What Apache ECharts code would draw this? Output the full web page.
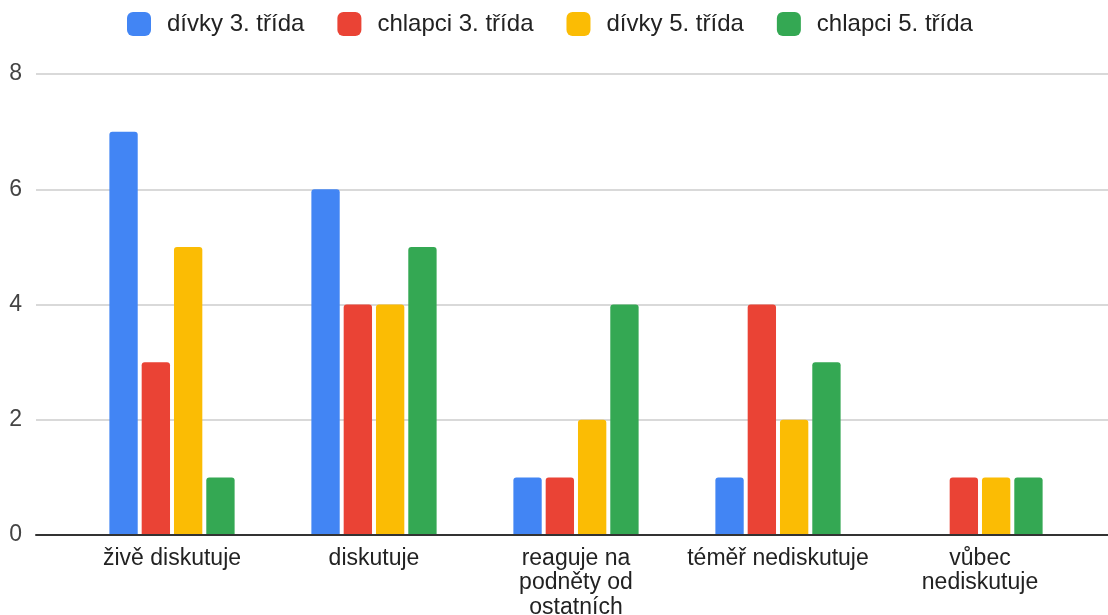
<!DOCTYPE html>
<html><head><meta charset="utf-8">
<script src="https://cdn.jsdelivr.net/npm/echarts@6/dist/echarts.min.js"></script>
<style>html,body{margin:0;padding:0;background:#fff}#c{width:1108px;height:615px}</style>
</head><body><div id="c"></div>
<script>
const categories = ['živě diskutuje','diskutuje','reaguje na podněty od ostatních','téměř nediskutuje','vůbec nediskutuje'];
const tickLabels = ['živě diskutuje','diskutuje','reaguje na\npodněty od\nostatních','téměř nediskutuje','vůbec\nnediskutuje'];
const seriesNames = ['dívky 3. třída','chlapci 3. třída','dívky 5. třída','chlapci 5. třída'];
const divky3 = [7, 6, 1, 1, 0];
const chlapci3 = [3, 4, 1, 4, 1];
const divky5 = [5, 4, 2, 2, 1];
const chlapci5 = [1, 5, 4, 3, 1];
const yTicks = [0, 2, 4, 6, 8];

const colors = ['#4285F4','#EA4335','#FBBC04','#34A853'];
const values = [divky3, chlapci3, divky5, chlapci5];
const FONT = 'Liberation Sans, Arial, sans-serif';

const chart = echarts.init(document.getElementById('c'));
chart.setOption({
  animation: false,
  color: colors,
  legend: {
    top: 12, left: 127, padding: 0, itemWidth: 24, itemHeight: 24, itemGap: 33,
    icon: 'roundRect',
    textStyle: {fontFamily: FONT, fontSize: 24, color: '#222', padding: [0,0,0,11]},
    data: seriesNames
  },
  grid: [
    {left: 36, right: 0, top: 74, bottom: 80, outerBoundsMode: 'none', containLabel: false},
    {left: 71, right: 27, top: 74, bottom: 80, outerBoundsMode: 'none', containLabel: false}
  ],
  xAxis: [
    {gridIndex: 0, type: 'category', data: categories, axisLabel: {show: false}, axisTick: {show: false},
     axisLine: {lineStyle: {color: '#333', width: 2}}, z: 5},
    {gridIndex: 1, type: 'category', data: categories, axisTick: {show: false}, axisLine: {show: false},
     axisLabel: {interval: 0, margin: 11, fontFamily: FONT, fontSize: 23, color: '#222', lineHeight: 24.5,
       formatter: (v, i) => tickLabels[i]}}
  ],
  yAxis: [
    {gridIndex: 0, type: 'value', min: yTicks[0], max: yTicks[yTicks.length-1], interval: 2,
     axisLabel: {margin: 14, fontFamily: FONT, fontSize: 23, color: '#444'},
     splitLine: {lineStyle: {color: '#ccc', width: 1.5}}, axisLine: {show: false}, axisTick: {show: false}},
    {gridIndex: 1, type: 'value', min: yTicks[0], max: yTicks[yTicks.length-1], interval: 2, show: false,
     splitLine: {show: false}}
  ],
  series: seriesNames.map((n, k) => ({
    name: n, type: 'bar', xAxisIndex: 1, yAxisIndex: 1, data: values[k],
    barGap: '14%', barCategoryGap: '38%', z: 3,
    itemStyle: {color: colors[k], borderRadius: [3,3,0,0]}
  }))
});
</script></body></html>
